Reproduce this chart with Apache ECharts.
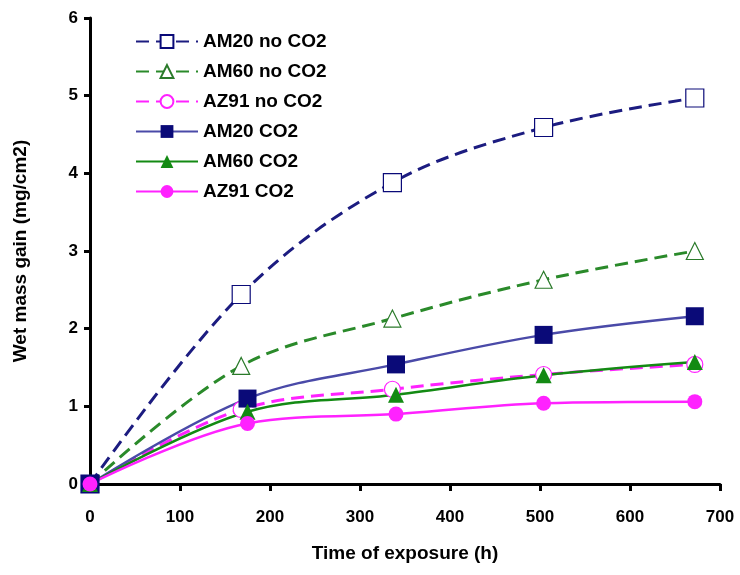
<!DOCTYPE html>
<html>
<head>
<meta charset="utf-8">
<script src="https://cdn.jsdelivr.net/npm/echarts@6/dist/echarts.min.js"></script>
<style>
  html, body { margin: 0; padding: 0; background: #fff; }
  #myChart { width: 740px; height: 575px; }
</style>
</head>
<body>
<div id="myChart"></div>
<script>
// exposure times (h)
var timeNoCO2 = [0, 168, 336, 504, 672];
var timeCO2 = [0, 175, 340, 504, 672];

// wet mass gain (mg/cm2)
var am20NoCO2 = [0, 2.44, 3.88, 4.59, 4.97];
var am60NoCO2 = [0, 1.52, 2.13, 2.63, 3.0];
var az91NoCO2 = [0, 0.96, 1.22, 1.41, 1.54];
var am20CO2 = [0, 1.1, 1.54, 1.92, 2.16];
var am60CO2 = [0, 0.93, 1.15, 1.4, 1.57];
var az91CO2 = [0, 0.78, 0.9, 1.04, 1.06];

var xTicks = [0, 100, 200, 300, 400, 500, 600, 700];
var yTicks = [0, 1, 2, 3, 4, 5, 6];

function pairs(xs, ys) {
  return xs.map(function (x, i) { return [x, ys[i]]; });
}

var font = 'Liberation Sans, Arial, sans-serif';

function makeSeries(name, xs, ys, color, lineColor, dashed, symbol, filled, size) {
  return {
    name: name,
    type: 'line',
    smooth: 0.35,
    data: pairs(xs, ys),
    symbol: symbol,
    symbolSize: size,
    showAllSymbol: true,
    lineStyle: {
      color: lineColor,
      width: dashed ? 3 : 2.5,
      type: dashed ? [13, 7] : 'solid'
    },
    itemStyle: {
      color: filled ? color : '#fff',
      borderColor: color,
      borderWidth: filled ? 0 : 1.2
    }
  };
}

var chart = echarts.init(document.getElementById('myChart'));
var options = {
  backgroundColor: '#fff',
  animation: false,
  grid: { left: 90, right: 20, top: 18, bottom: 91 },
  legend: {
    orient: 'vertical',
    left: 130,
    top: 27,
    itemWidth: 62,
    itemHeight: 16,
    itemGap: 11,
    textStyle: { fontFamily: font, fontWeight: 'bold', fontSize: 19, color: '#000' },
    data: ['AM20 no CO2', 'AM60 no CO2', 'AZ91 no CO2', 'AM20 CO2', 'AM60 CO2', 'AZ91 CO2']
  },
  xAxis: {
    type: 'value',
    min: 0,
    max: 700,
    interval: 100,
    name: 'Time of exposure (h)',
    nameLocation: 'middle',
    nameGap: 60,
    nameTextStyle: { fontFamily: font, fontWeight: 'bold', fontSize: 19, color: '#000' },
    axisLine: { lineStyle: { color: '#000', width: 3 } },
    axisTick: { show: true, length: 7, lineStyle: { color: '#000', width: 3 } },
    axisLabel: {
      fontFamily: font, fontWeight: 'bold', fontSize: 17, color: '#000', margin: 25,
      formatter: function (v) { return xTicks.indexOf(v) >= 0 ? String(v) : ''; }
    },
    splitLine: { show: false }
  },
  yAxis: {
    type: 'value',
    min: 0,
    max: 6,
    interval: 1,
    name: 'Wet mass gain (mg/cm2)',
    nameLocation: 'middle',
    nameGap: 60,
    nameTextStyle: { fontFamily: font, fontWeight: 'bold', fontSize: 19, color: '#000' },
    axisLine: { show: true, lineStyle: { color: '#000', width: 3 } },
    axisTick: { show: true, length: 6, lineStyle: { color: '#000', width: 3 } },
    axisLabel: {
      fontFamily: font, fontWeight: 'bold', fontSize: 17, color: '#000', margin: 12,
      formatter: function (v) { return yTicks.indexOf(v) >= 0 ? String(v) : ''; }
    },
    splitLine: { show: false }
  },
  series: [
    makeSeries('AM20 no CO2', timeNoCO2, am20NoCO2, '#0a0a78', '#1c1c80', true, 'rect', false, 18),
    makeSeries('AM60 no CO2', timeNoCO2, am60NoCO2, '#2a7a2a', '#2a8a2a', true, 'triangle', false, 17),
    makeSeries('AZ91 no CO2', timeNoCO2, az91NoCO2, '#ff22ff', '#ff22ff', true, 'circle', false, 16),
    makeSeries('AM20 CO2', timeCO2, am20CO2, '#0a0a78', '#4a4aa8', false, 'rect', true, 18),
    makeSeries('AM60 CO2', timeCO2, am60CO2, '#138a13', '#138a13', false, 'triangle', true, 16),
    makeSeries('AZ91 CO2', timeCO2, az91CO2, '#ff22ff', '#ff22ff', false, 'circle', true, 15)
  ]
};
chart.setOption(options);
</script>
</body>
</html>
